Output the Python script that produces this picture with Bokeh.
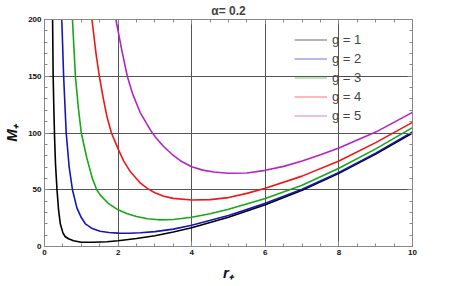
from bokeh.plotting import figure
from bokeh.models import (SingleIntervalTicker, LinearAxis, Range1d, Legend,
                          LegendItem, CustomJSTickFormatter)
from bokeh.embed import file_html
from bokeh.resources import INLINE

# ---- data ----
r_g1 = [0.22, 0.235, 0.255, 0.275, 0.30, 0.34, 0.38, 0.43, 0.50, 0.56, 0.65, 0.79,
        1.0, 1.33, 1.7, 2.0, 2.5, 3.0, 3.5, 4.0, 5.0, 6.0, 7.0, 8.0, 9.0, 10.0]
M_g1 = [200, 150, 120, 95, 72, 50, 33, 20, 12, 8.8, 6.8, 5.0,
        3.7, 3.7, 4.2, 5.0, 7.0, 9.5, 12.8, 16.5, 25.8, 36.7, 49.5, 64.5, 81.5, 100]

r_g2 = [0.47, 0.52, 0.59, 0.67, 0.76, 0.88, 1.0, 1.11, 1.3, 1.51, 1.75, 2.0,
        2.3, 2.6, 3.0, 3.5, 4.0, 5.0, 6.0, 7.0, 8.0, 9.0, 10.0]
M_g2 = [200, 150, 100, 70, 50, 34, 25.5, 20, 15.8, 13.4, 12.3, 11.8,
        11.7, 12.1, 13.1, 15.3, 18.8, 27.3, 38, 50.5, 65.2, 82.3, 101]

r_g3 = [0.76, 0.84, 0.92, 1.0, 1.15, 1.3, 1.42, 1.51, 1.75, 2.0, 2.25, 2.5, 2.8,
        3.1, 3.5, 4.0, 4.5, 5.0, 6.0, 7.0, 8.0, 9.0, 10.0]
M_g3 = [200, 150, 122, 100, 78, 60, 50, 45.5, 37.5, 32.3, 28.8, 26.4, 24.5,
        23.5, 23.8, 25.8, 28.8, 32.9, 42.2, 54, 69, 86, 104.7]

r_g4 = [1.29, 1.4, 1.49, 1.6, 1.7, 1.82, 2.0, 2.15, 2.33, 2.6, 2.8, 3.0, 3.24,
        3.5, 4.0, 4.5, 5.0, 5.5, 6.0, 7.0, 8.0, 9.0, 10.0]
M_g4 = [200, 170, 150, 130, 114, 100, 86, 75.5, 66, 56, 51, 47.3, 44.3,
        42.4, 41, 41.3, 43.1, 46.8, 51.4, 62, 75.4, 91.5, 109.4]

r_g5 = [1.94, 2.1, 2.25, 2.4, 2.6, 2.9, 3.0, 3.23, 3.5, 3.69, 4.0, 4.3,
        4.6, 5.0, 5.5, 6.0, 6.5, 7.0, 7.5, 8.0, 9.0, 10.0]
M_g5 = [200, 173, 150, 134, 118, 101.5, 97, 88.3, 80.2, 75.6, 70.3, 67.3,
        65.6, 64.6, 64.8, 67.1, 70.6, 75.3, 80.8, 86.8, 100.8, 118.2]

series = [(r_g1, M_g1), (r_g2, M_g2), (r_g3, M_g3), (r_g4, M_g4), (r_g5, M_g5)]
labels = ["g = 1", "g = 2", "g = 3", "g = 4", "g = 5"]
colors = ["#000000", "#1616b4", "#16a816", "#f01616", "#b424c4"]

title_text = "α= 0.2"
x_label = "r₊"
y_label = "M₊"

FONT = "Liberation Sans"

p = figure(frame_width=368, frame_height=227, output_backend="svg",
           toolbar_location=None, x_range=Range1d(0, 10), y_range=Range1d(0, 200),
           min_border_left=36, min_border_right=37, min_border_top=23,
           min_border_bottom=31, margin=(-4, 0, 0, 0))

p.title.text = title_text
p.title.align = "center"
p.title.text_font = FONT
p.title.text_font_size = "12px"
p.title.text_font_style = "bold"
p.title.standoff = 4
p.title.offset = 0

bottom_axis = p.below[0]
left_axis = p.left[0]

xt = SingleIntervalTicker(interval=2, num_minor_ticks=4)
yt = SingleIntervalTicker(interval=50, num_minor_ticks=5)

bottom_axis.ticker = xt
left_axis.ticker = yt
p.xgrid.ticker = xt
p.ygrid.ticker = yt
p.grid.grid_line_color = "#555555"
p.grid.grid_line_width = 1
p.outline_line_color = "#888888"

top_axis = LinearAxis(ticker=xt, formatter=CustomJSTickFormatter(code="return ''"))
right_axis = LinearAxis(ticker=yt, formatter=CustomJSTickFormatter(code="return ''"))
p.add_layout(top_axis, "above")
p.add_layout(right_axis, "right")

for ax in [bottom_axis, left_axis, top_axis, right_axis]:
    ax.major_tick_in = 5
    ax.major_tick_out = 0
    ax.minor_tick_in = 3
    ax.minor_tick_out = 0
    ax.axis_line_color = "#888888"
    ax.major_tick_line_color = "#888888"
    ax.minor_tick_line_color = "#888888"
    ax.major_label_text_font = FONT
    ax.major_label_text_font_size = "8px"
    ax.major_label_text_font_style = "bold"
    ax.major_label_text_color = "#111111"
    ax.major_label_standoff = 3

for ax in [top_axis, right_axis]:
    ax.major_label_text_font_size = "1px"
    ax.major_label_standoff = 0

bottom_axis.axis_label = x_label
left_axis.axis_label = y_label
for ax in [bottom_axis, left_axis]:
    ax.axis_label_text_font = FONT
    ax.axis_label_text_font_size = "15px"
    ax.axis_label_text_font_style = "bold italic"
    ax.axis_label_text_color = "#111111"
bottom_axis.axis_label_standoff = 6
left_axis.axis_label_standoff = 5

nan = float("nan")
items = []
for (rs, ms), lab, col in zip(series, labels, colors):
    p.line(rs, ms, line_color=col, line_width=1.6)
    dummy = p.line([nan], [nan], line_color=col, line_width=1.3, line_alpha=0.4)
    items.append(LegendItem(label=lab, renderers=[dummy]))

legend = Legend(items=items, location=(250, 121), background_fill_alpha=0,
                border_line_alpha=0, padding=0, margin=0, spacing=0,
                glyph_width=33, glyph_height=19, label_height=19,
                label_standoff=5, label_text_font=FONT,
                label_text_font_size="13px")
p.add_layout(legend)

open("out.html", "w").write(file_html(p, INLINE))
